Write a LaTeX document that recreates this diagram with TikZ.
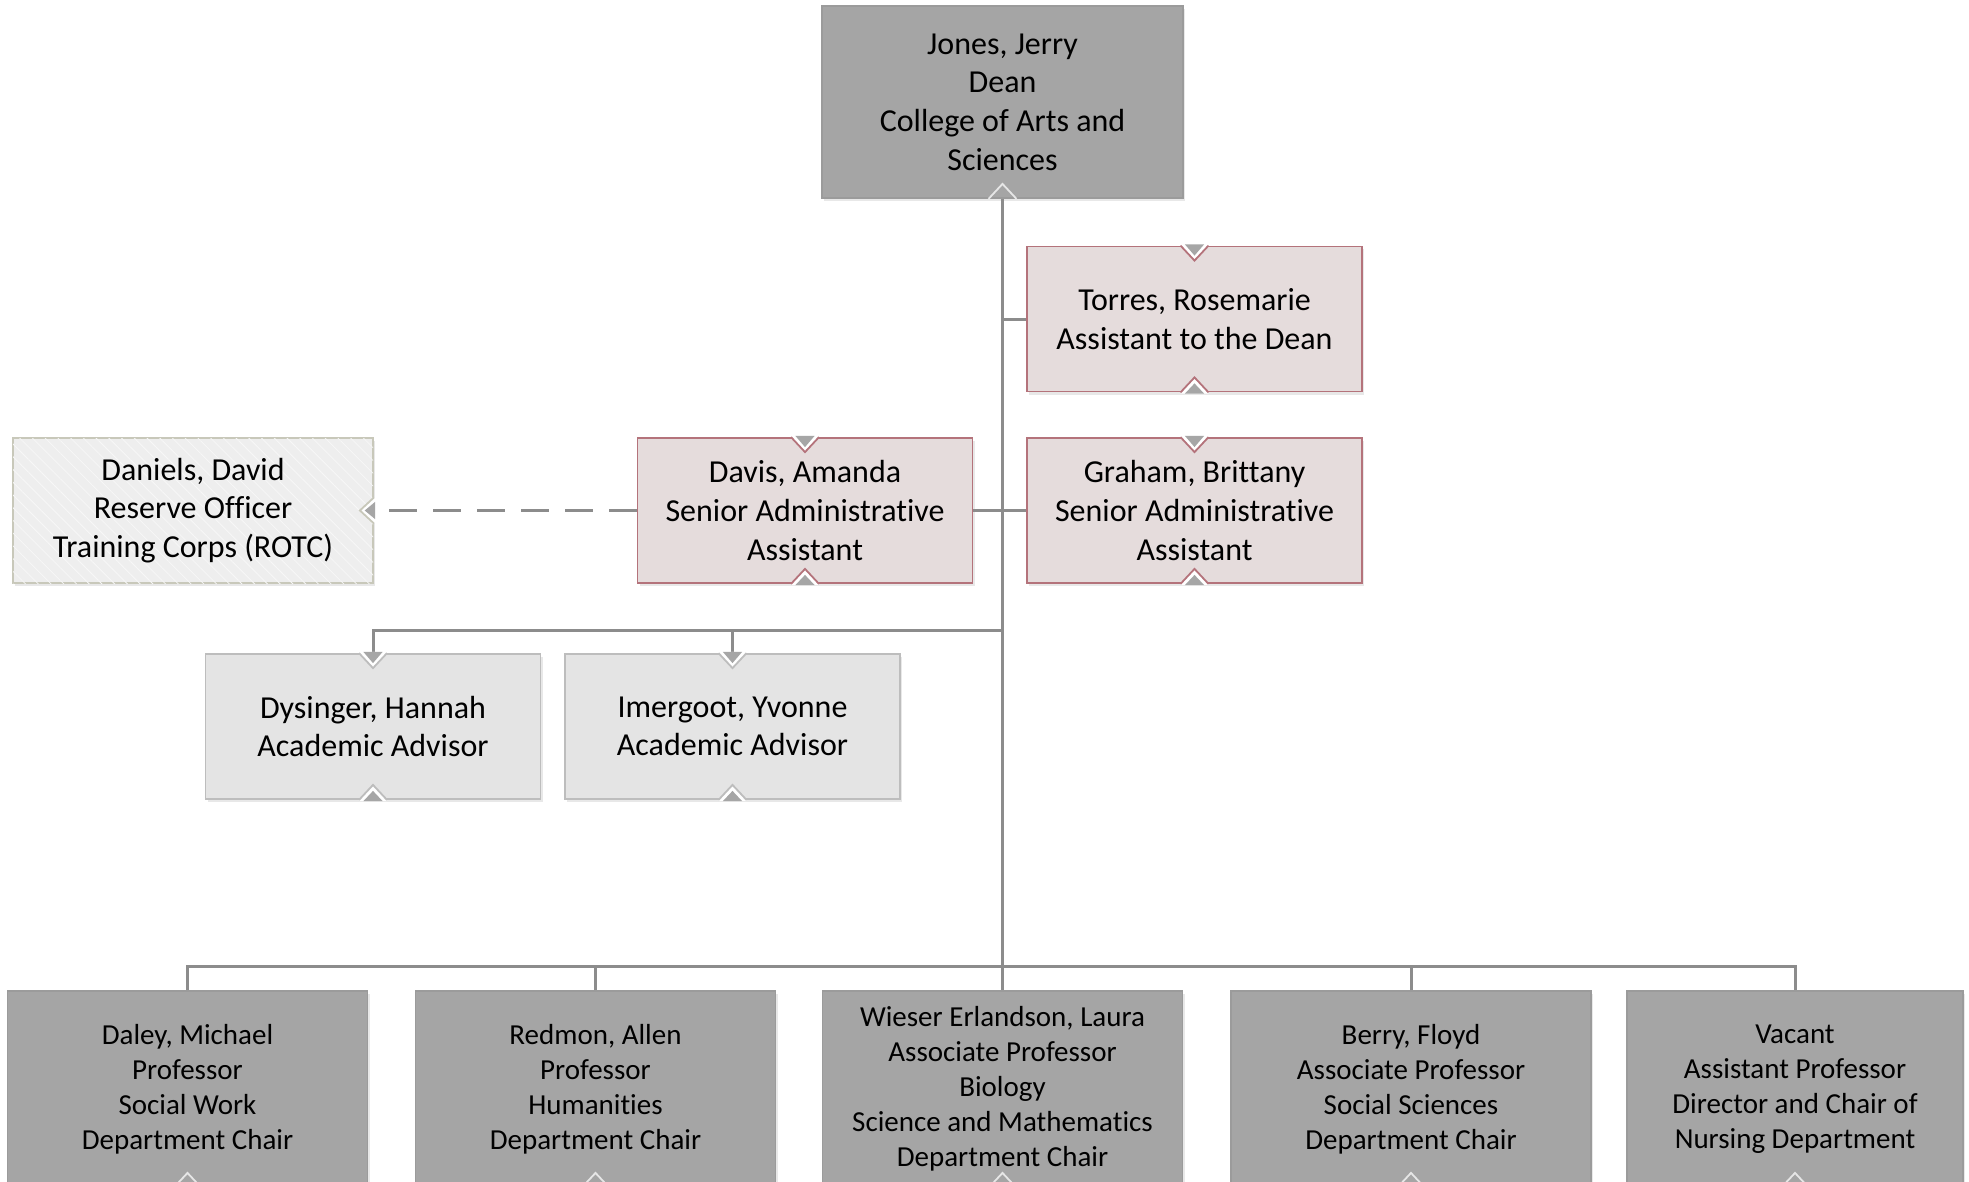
\documentclass[tikz,border=0pt]{standalone}
\usepackage{fontspec}
\setmainfont{Carlito}[Ligatures=NoCommon]
\usetikzlibrary{shadows,patterns.meta,calc}
\definecolor{darkbox}{HTML}{A5A5A5}
\definecolor{darkedge}{HTML}{9B9B9B}
\definecolor{pinkbox}{HTML}{E5DCDC}
\definecolor{pinkedge}{HTML}{B4737B}
\definecolor{lightbox}{HTML}{E4E4E4}
\definecolor{lightedge}{HTML}{BDBDBD}
\definecolor{rotcbox}{HTML}{EEEEEE}
\definecolor{rotcedge}{HTML}{C8C8BA}
\definecolor{rotcline}{HTML}{F7F7F7}
\definecolor{linecol}{HTML}{8C8C8C}
\definecolor{notchfill}{HTML}{A6A6A6}
\definecolor{notchlight}{HTML}{E6E6E6}
\tikzset{
  box/.style={rectangle, align=center, inner sep=0pt, line width=0.9pt,
    font=\fontsize{16}{19.3}\selectfont,
    drop shadow={opacity=0.18, shadow xshift=1.2pt, shadow yshift=-1.5pt}},
  deanbox/.style={box, fill=darkbox, draw=darkedge, minimum width=180.5pt, minimum height=96pt},
  chairbox/.style={box, fill=darkbox, draw=darkedge, minimum width=180pt, minimum height=98pt,
    font=\fontsize{14.5}{17.5}\selectfont},
  pinkbx/.style={box, fill=pinkbox, draw=pinkedge, minimum width=167.5pt, minimum height=72.5pt},
  advbox/.style={box, fill=lightbox, draw=lightedge, minimum width=167.5pt, minimum height=72.5pt},
  rotcbx/.style={box, fill=rotcbox, draw=rotcedge, minimum width=180pt, minimum height=72.5pt,
    postaction={pattern={Lines[angle=-45,distance=4.5pt,line width=0.4pt]}, pattern color=rotcline}},
  conn/.style={draw=linecol, line width=1.5pt},
  dashconn/.style={conn, dash pattern=on 14pt off 8pt},
}
% top notch: #1 node, #2 edge colour
\newcommand{\notchtop}[2]{%
  \fill[white] ([xshift=-7pt,yshift=0.6pt]#1.north) -- ([yshift=-7.5pt]#1.north) -- ([xshift=7pt,yshift=0.6pt]#1.north) -- cycle;
  \draw[#2, line width=0.9pt] ([xshift=-7pt]#1.north) -- ([yshift=-7.5pt]#1.north) -- ([xshift=7pt]#1.north);
  \fill[notchfill] ([xshift=-4.8pt,yshift=0.6pt]#1.north) -- ([yshift=-5pt]#1.north) -- ([xshift=4.8pt,yshift=0.6pt]#1.north) -- cycle;}
\newcommand{\notchbot}[2]{%
  \fill[white] ([xshift=-7pt,yshift=-0.6pt]#1.south) -- ([yshift=7.5pt]#1.south) -- ([xshift=7pt,yshift=-0.6pt]#1.south) -- cycle;
  \draw[#2, line width=0.9pt] ([xshift=-7pt]#1.south) -- ([yshift=7.5pt]#1.south) -- ([xshift=7pt]#1.south);
  \fill[notchfill] ([xshift=-4.8pt,yshift=-0.6pt]#1.south) -- ([yshift=4.5pt]#1.south) -- ([xshift=4.8pt,yshift=-0.6pt]#1.south) -- cycle;}
\newcommand{\notchdark}[1]{%
  \draw[notchlight, line width=0.9pt] ([xshift=-7pt]#1.south) -- ([yshift=7.5pt]#1.south) -- ([xshift=7pt]#1.south);}
\begin{document}
\begin{tikzpicture}[x=0.5pt,y=-0.5pt]
\clip (0,0) rectangle (1969,1182);
\fill[white] (0,0) rectangle (1969,1182);
% nodes
\node[deanbox] (dean) at (1002.5,102) {Jones, Jerry\\Dean\\College of Arts and\\Sciences};
\node[pinkbx] (torres) at (1194.5,319) {Torres, Rosemarie\\Assistant to the Dean};
\node[pinkbx] (davis) at (805,510.5) {Davis, Amanda\\Senior Administrative\\Assistant};
\node[pinkbx] (graham) at (1194.5,510.5) {Graham, Brittany\\Senior Administrative\\Assistant};
\node[rotcbx] (daniels) at (193,510.5) {Daniels, David\\Reserve Officer\\Training Corps (ROTC)};
\node[advbox] (dysinger) at (373,726.5) {Dysinger, Hannah\\Academic Advisor};
\node[advbox] (imergoot) at (732.5,726.5) {Imergoot, Yvonne\\Academic Advisor};
\node[chairbox] (daley) at (187.5,1089) {Daley, Michael\\Professor\\Social Work\\Department Chair};
\node[chairbox] (redmon) at (595.5,1089) {Redmon, Allen\\Professor\\Humanities\\Department Chair};
\node[chairbox] (wieser) at (1002.5,1089) {Wieser Erlandson, Laura\\Associate Professor\\Biology\\Science and Mathematics\\Department Chair};
\node[chairbox] (berry) at (1411,1089) {Berry, Floyd\\Associate Professor\\Social Sciences\\Department Chair};
\node[chairbox, minimum width=168pt] (vacant) at (1795,1089) {Vacant\\Assistant Professor\\Director and Chair of\\Nursing Department};
% connectors
\coordinate (advj) at (1002,630);
\draw[conn] (dean.south) -- (dean.south |- wieser.north);
\draw[conn] (daley.north) -- ++(0,-24) -| (vacant.north);
\draw[conn] (redmon.north) -- ++(0,-24);
\draw[conn] (berry.north) -- ++(0,-24);
\draw[conn] (torres.west) -- (torres.west -| dean.south);
\draw[conn] (davis.east) -- (graham.west);
\draw[conn] (advj) -| (dysinger.north);
\draw[conn] (imergoot.north) -- (imergoot.north |- advj);
\draw[dashconn] (davis.west) -- (daniels.east);
% notches
\notchdark{dean}
\foreach \n in {torres,davis,graham}{\notchtop{\n}{pinkedge}\notchbot{\n}{pinkedge}}
\foreach \n in {dysinger,imergoot}{\notchtop{\n}{lightedge}\notchbot{\n}{lightedge}}
\foreach \n in {daley,redmon,wieser,berry,vacant}{\notchdark{\n}}
% left-pointing notch on ROTC box
\fill[white] ([xshift=0.6pt,yshift=6.5pt]daniels.east) -- ([xshift=-7pt]daniels.east) -- ([xshift=0.6pt,yshift=-6.5pt]daniels.east) -- cycle;
\draw[rotcedge, line width=0.9pt] ([yshift=6.5pt]daniels.east) -- ([xshift=-7pt]daniels.east) -- ([yshift=-6.5pt]daniels.east);
\fill[notchfill] ([xshift=0.6pt,yshift=4.3pt]daniels.east) -- ([xshift=-4.6pt]daniels.east) -- ([xshift=0.6pt,yshift=-4.3pt]daniels.east) -- cycle;
\end{tikzpicture}
\end{document}
